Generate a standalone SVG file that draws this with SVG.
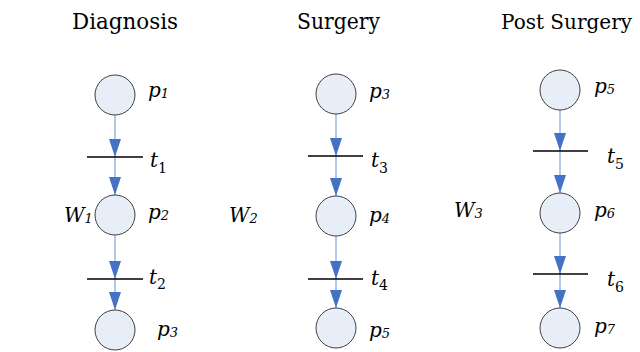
<svg xmlns="http://www.w3.org/2000/svg" width="640" height="352" viewBox="0 0 640 352">
<style>
.place{fill:#e8eef8;stroke:#404040;stroke-width:1}
.trans{stroke:#000;stroke-width:1.5}
.arc{stroke:#7fa6da;stroke-width:1.2;fill:none;marker-end:url(#ah)}
text{font-family:'DejaVu Serif',serif;fill:#000}
.title{font-size:23px;text-anchor:middle}
.lbl{font-size:20px;font-style:italic}
.ps{font-size:13px}
.ts{font-size:14px;font-style:normal}
</style>
<defs>
<marker id="ah" markerUnits="userSpaceOnUse" markerWidth="18" markerHeight="12" refX="18" refY="6" orient="auto" viewBox="0 0 18 12">
<path d="M0,0 L18,6 L0,12 Z" fill="#4472c4"/>
</marker>
</defs>
<rect width="640" height="352" fill="#fff"/>
<text class="title" x="125" y="29" textLength="106" lengthAdjust="spacingAndGlyphs">Diagnosis</text>
<text class="title" x="338.5" y="29" textLength="83" lengthAdjust="spacingAndGlyphs">Surgery</text>
<text class="title" x="501" y="29" style="text-anchor:start;font-size:20px">Post Surgery</text>
<text class="lbl" x="64" y="222">W<tspan class="ps" dy="1">1</tspan></text>
<text class="lbl" x="229" y="222">W<tspan class="ps" dy="1">2</tspan></text>
<text class="lbl" x="454" y="217">W<tspan class="ps" dy="1">3</tspan></text>
<g id="connectors">
<line class="arc" x1="115" y1="115" x2="115" y2="157"/>
<line class="arc" x1="115" y1="157" x2="115" y2="195"/>
<line class="arc" x1="115" y1="235" x2="115" y2="279"/>
<line class="arc" x1="115" y1="279" x2="115" y2="310"/>
<line class="arc" x1="336" y1="114" x2="336" y2="156"/>
<line class="arc" x1="336" y1="156" x2="336" y2="196"/>
<line class="arc" x1="336" y1="236" x2="336" y2="279"/>
<line class="arc" x1="336" y1="279" x2="336" y2="308"/>
<line class="arc" x1="560" y1="110" x2="560" y2="151"/>
<line class="arc" x1="560" y1="151" x2="560" y2="193"/>
<line class="arc" x1="560" y1="233" x2="560" y2="274"/>
<line class="arc" x1="560" y1="274" x2="560" y2="308"/>
</g>
<g id="p1"><circle class="place" cx="115" cy="95" r="20"/><text class="lbl" x="148" y="97">p<tspan class="ps" dy="1">1</tspan></text></g>
<g id="t1"><line class="trans" x1="87" y1="157" x2="143" y2="157"/><text class="lbl" x="150" y="167">t<tspan class="ts" dy="6">1</tspan></text></g>
<g id="p2"><circle class="place" cx="115" cy="215" r="20"/><text class="lbl" x="148" y="219">p<tspan class="ps" dy="1">2</tspan></text></g>
<g id="t2"><line class="trans" x1="87" y1="279" x2="143" y2="279"/><text class="lbl" x="149" y="284">t<tspan class="ts" dy="5">2</tspan></text></g>
<g id="p3a"><circle class="place" cx="115" cy="330" r="20"/><text class="lbl" x="157" y="336">p<tspan class="ps" dy="1">3</tspan></text></g>
<g id="p3b"><circle class="place" cx="336" cy="94" r="20"/><text class="lbl" x="369" y="98">p<tspan class="ps" dy="1">3</tspan></text></g>
<g id="t3"><line class="trans" x1="308" y1="156" x2="363" y2="156"/><text class="lbl" x="371" y="167">t<tspan class="ts" dy="6">3</tspan></text></g>
<g id="p4"><circle class="place" cx="336" cy="216" r="20"/><text class="lbl" x="369" y="222">p<tspan class="ps" dy="1">4</tspan></text></g>
<g id="t4"><line class="trans" x1="308" y1="279" x2="363" y2="279"/><text class="lbl" x="371" y="285">t<tspan class="ts" dy="5">4</tspan></text></g>
<g id="p5a"><circle class="place" cx="336" cy="328" r="20"/><text class="lbl" x="369" y="337">p<tspan class="ps" dy="1">5</tspan></text></g>
<g id="p5b"><circle class="place" cx="560" cy="90" r="20"/><text class="lbl" x="594" y="93">p<tspan class="ps" dy="1">5</tspan></text></g>
<g id="t5"><line class="trans" x1="533" y1="151" x2="588" y2="151"/><text class="lbl" x="607" y="163">t<tspan class="ts" dy="6">5</tspan></text></g>
<g id="p6"><circle class="place" cx="560" cy="213" r="20"/><text class="lbl" x="594" y="217">p<tspan class="ps" dy="1">6</tspan></text></g>
<g id="t6"><line class="trans" x1="533" y1="274" x2="588" y2="274"/><text class="lbl" x="607" y="286">t<tspan class="ts" dy="6">6</tspan></text></g>
<g id="p7"><circle class="place" cx="560" cy="328" r="20"/><text class="lbl" x="594" y="333">p<tspan class="ps" dy="1">7</tspan></text></g>
</svg>
